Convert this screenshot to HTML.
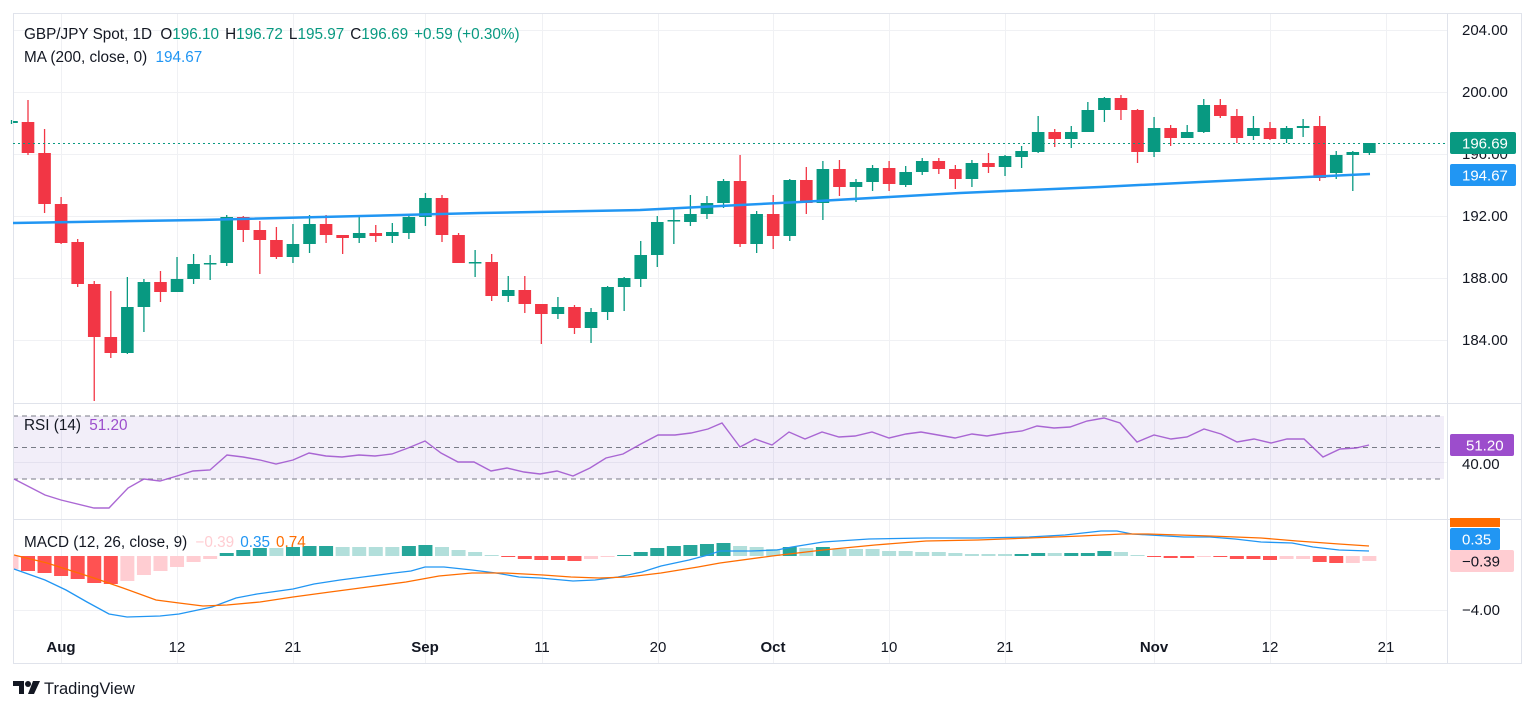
<!DOCTYPE html>
<html><head><meta charset="utf-8">
<style>
html,body{margin:0;padding:0;background:#fff;}
svg{display:block;font-family:"Liberation Sans",sans-serif;}
</style></head>
<body>
<svg id="c" width="1536" height="711" viewBox="0 0 1536 711" xmlns="http://www.w3.org/2000/svg">
<rect width="1536" height="711" fill="#fff"/>
<g id="grid" stroke="#f0f1f4" stroke-width="1"></g>
<rect x="13" y="416" width="1431" height="63" fill="#7e57c2" fill-opacity="0.1"/>
<g stroke="#787b86" stroke-dasharray="5,4" stroke-width="1">
<line x1="13" y1="416" x2="1444" y2="416"/><line x1="13" y1="447.5" x2="1444" y2="447.5"/><line x1="13" y1="479" x2="1444" y2="479"/>
</g>
<g stroke="#e0e3eb" stroke-width="1" fill="none">
<rect x="13.5" y="13.5" width="1508" height="650"/>
<line x1="13" y1="403.5" x2="1522" y2="403.5"/>
<line x1="13" y1="519.5" x2="1522" y2="519.5"/>
<line x1="1447.5" y1="13" x2="1447.5" y2="664"/>
</g>
<g id="cand"></g>
<g id="macd"></g>
<line x1="13" y1="143.5" x2="1447" y2="143.5" stroke="#089981" stroke-dasharray="2,3" stroke-width="1"/>
<polyline fill="none" stroke="#2196f3" stroke-width="2.5" points="13,223 200,220 480,213 640,210 800,202 960,193 1100,187 1200,182 1370,174"/>
<polyline fill="none" stroke="#9c4dcc" stroke-opacity="0.85" stroke-width="1.4" points="14,479 45,495 61,500 94,508 109,508 128,488 144,479 160,481 177,476 193,471 210,470 227,455 243,457 260,460 276,464 293,460 309,453 326,456 342,457 359,455 375,456 392,454 408,448 425,441 441,453 458,462 474,462 491,471 507,468 524,472 540,474 557,471 573,476 590,468 606,458 623,454 639,445 658,435 675,435 691,433 708,429 722,423 740,447 755,439 772,445 789,432 805,439 822,432 839,437 855,436 872,432 889,438 906,434 921,432 938,435 955,438 972,434 987,436 1005,433 1022,431 1037,426 1054,428 1070,427 1087,421 1104,418 1120,423 1137,442 1154,435 1171,439 1187,437 1204,429 1221,434 1237,442 1254,439 1271,443 1287,439 1304,439 1323,457 1340,449 1356,448 1369,445"/>
<polyline fill="none" stroke="#2196f3" stroke-width="1.3" points="14,569 45,580 66,590 87,602 109,614 127,617 160,616 179,614 212,607 236,598 257,594 293,589 314,584 340,580 363,577 394,573 411,571 425,567 444,567 472,570 496,573 519,577 540,578 573,581 595,580 618,577 642,572 661,566 689,560 708,555 720,551 751,551 777,550 792,547 823,542 869,539 926,538 978,538 1029,537 1065,535 1101,531 1117,531 1132,534 1184,537 1210,537 1235,539 1261,542 1292,543 1313,547 1339,550 1369,551"/>
<polyline fill="none" stroke="#ff6d00" stroke-width="1.3" points="14,555 47,563 94,578 123,588 156,600 179,603 203,606 227,605 260,602 293,597 330,592 368,587 406,582 439,576 472,573 505,573 543,575 571,577 599,578 628,577 661,573 698,567 720,563 772,556 823,550 875,545 926,541 978,540 1029,538 1081,536 1122,534 1148,534 1210,536 1261,538 1297,541 1339,544 1369,546"/>
<g font-size="15.3" fill="#131722">
<text x="24" y="39">GBP/JPY Spot, 1D  <tspan dx="4">O</tspan><tspan fill="#089981">196.10</tspan><tspan dx="6">H</tspan><tspan fill="#089981">196.72</tspan><tspan dx="6">L</tspan><tspan fill="#089981">195.97</tspan><tspan dx="6">C</tspan><tspan fill="#089981">196.69</tspan><tspan dx="6" fill="#089981">+0.59 (+0.30%)</tspan></text>
<text x="24" y="62">MA (200, close, 0) <tspan dx="4" fill="#2196f3">194.67</tspan></text>
<text x="24" y="430">RSI (14) <tspan dx="4" fill="#9c4dcc">51.20</tspan></text>
<text x="24" y="547">MACD (12, 26, close, 9) <tspan dx="4" fill="#ffcdd2">−0.39</tspan><tspan dx="6" fill="#2196f3">0.35</tspan><tspan dx="6" fill="#ff6d00">0.74</tspan></text>
</g>
<g font-size="15" fill="#131722">
<text x="1462" y="35">204.00</text><text x="1462" y="97">200.00</text><text x="1462" y="159">196.00</text>
<text x="1462" y="221">192.00</text><text x="1462" y="283">188.00</text><text x="1462" y="345">184.00</text>
<text x="1462" y="469">40.00</text><text x="1462" y="615">−4.00</text>
</g>
<rect x="1450" y="132" width="66" height="22" rx="2" fill="#089981"/><text x="1462" y="148.5" font-size="15" fill="#fff">196.69</text>
<rect x="1450" y="164" width="66" height="22" rx="2" fill="#2196f3"/><text x="1462" y="180.5" font-size="15" fill="#fff">194.67</text>
<rect x="1450" y="434" width="64" height="22" rx="2" fill="#9c4dcc"/><text x="1466" y="450.5" font-size="15" fill="#fff">51.20</text>
<rect x="1450" y="518" width="50" height="9" fill="#ff6d00"/>
<rect x="1450" y="528" width="50" height="22" rx="2" fill="#2196f3"/><text x="1462" y="544.5" font-size="15" fill="#fff">0.35</text>
<rect x="1450" y="550" width="64" height="22" rx="2" fill="#ffcdd2"/><text x="1462" y="566.5" font-size="15" fill="#131722">−0.39</text>
<g font-size="15" fill="#131722" text-anchor="middle">
<text x="61" y="652" font-weight="bold">Aug</text><text x="177" y="652">12</text><text x="293" y="652">21</text>
<text x="425" y="652" font-weight="bold">Sep</text><text x="542" y="652">11</text><text x="658" y="652">20</text>
<text x="773" y="652" font-weight="bold">Oct</text><text x="889" y="652">10</text><text x="1005" y="652">21</text>
<text x="1154" y="652" font-weight="bold">Nov</text><text x="1270" y="652">12</text><text x="1386" y="652">21</text>
</g>
<g fill="#131722">
<path d="M13 681h11v13h-5v-8h-6z"/><circle cx="28" cy="684" r="3"/><path d="M33 681h7l-6 13h-6z"/>
<text x="44" y="694" font-size="16.5">TradingView</text>
</g>
</svg>
<script>
(function(){
var NS="http://www.w3.org/2000/svg";
function el(p,t,a){var e=document.createElementNS(NS,t);for(var k in a)e.setAttribute(k,a[k]);p.appendChild(e);return e;}
var g=document.getElementById('grid');
[30,92,154,216,278,340,462,610].forEach(function(y){el(g,'line',{x1:13,y1:y+0.5,x2:1447,y2:y+0.5});});
[61,177,293,425,542,658,773,889,1005,1154,1270,1386].forEach(function(x){el(g,'line',{x1:x+0.5,y1:13,x2:x+0.5,y2:664});});
var d=[
[123,121,120,124],[122,153,100,155],[153,204,129,213],[204,243,197,244],[242,284,239,287],[284,337,281,401],[337,353,291,358],[353,307,277,354],[307,282,279,332],[282,292,271,302],
[292,279,257,292],[279,264,254,284],[264,263,255,280],[263,217,215,266],[217,230,216,242],[230,240,221,274],[240,257,227,259],[257,244,224,263],[244,224,215,253],[224,235,215,243],
[235,238,235,254],[238,233,217,243],[233,236,225,242],[236,232,223,243],[233,217,214,239],[217,198,193,226],[198,235,195,242],[235,263,233,263],[263,262,250,277],[262,296,254,301],
[296,290,276,302],[290,304,276,313],[304,314,304,344],[314,307,297,319],[307,328,305,334],[328,312,308,343],[312,287,286,320],[287,278,277,311],[279,255,241,287],[255,222,216,267],
[221,220,208,244],[222,214,195,226],[214,203,196,219],[203,181,179,208],[181,244,155,247],[244,214,211,253],[214,236,195,249],[236,180,179,241],[180,203,167,214],[203,169,161,220],
[169,187,160,196],[187,182,179,202],[182,168,165,191],[168,184,161,191],[185,172,166,187],[172,161,158,175],[161,169,158,174],[169,179,165,189],[179,163,160,187],[163,167,153,173],
[167,156,155,176],[157,151,146,168],[152,132,116,153],[132,139,129,147],[139,132,126,148],[132,110,102,132],[110,98,97,122],[98,110,95,120],[110,152,109,163],[152,128,117,157],
[128,138,125,146],[138,132,125,138],[132,105,99,133],[105,116,99,118],[116,138,109,143],[136,128,116,140],[128,139,122,140],[139,128,126,143],[128,126,119,137],[126,178,116,181],
[173,155,151,179],[155,152,151,191],[153,143,143,155]];
var cg=document.getElementById('cand');
var X=function(i){return 28+(i-2)*16.56;};
d.forEach(function(c,i){
  var x=X(i+1), up=c[1]<=c[0], col=up?'#089981':'#f23645';
  if(i==0){x=11.5;}
  var top=Math.min(c[0],c[1]), h=Math.max(1.5,Math.abs(c[0]-c[1]));
  el(cg,'line',{x1:x,y1:c[2],x2:x,y2:c[3],stroke:col,'stroke-width':1.3});
  var x0=x-6.3, w=12.6; if(x0<13){w-=13-x0;x0=13;}
  el(cg,'rect',{x:x0,y:top,width:w,height:h,fill:col});
});
var Z=556;
var hb=[[569,'p'],[571,'r'],[573,'r'],[576,'r'],[579,'r'],[583,'r'],[584,'r'],[581,'p'],[575,'p'],[571,'p'],[567,'p'],[562,'p'],[559,'p'],
[553,'g'],[550,'g'],[548,'g'],[548,'l'],[547,'g'],[546,'g'],[546,'g'],[547,'l'],[547,'l'],[547,'l'],[547,'l'],[546,'g'],[545,'g'],[547,'l'],[550,'l'],[552,'l'],[555,'l'],
[557,'r'],[559,'r'],[560,'r'],[560,'r'],[561,'r'],[559,'p'],[557,'p'],[555,'g'],[552,'g'],[548,'g'],[546,'g'],[545,'g'],[544,'g'],[543,'g'],
[546,'l'],[547,'l'],[549,'l'],[547,'g'],[548,'l'],[547,'g'],[549,'l'],[549,'l'],[549,'l'],[551,'l'],[551,'l'],[552,'l'],[552,'l'],[553,'l'],[554,'l'],[554,'l'],[554,'l'],[554,'g'],
[553,'g'],[553,'l'],[553,'g'],[553,'g'],[551,'g'],[552,'l'],[555,'l'],[557,'r'],[558,'r'],[558,'r'],[557,'p'],[557,'r'],[559,'r'],[559,'r'],[560,'r'],[559,'p'],[559,'p'],[562,'r'],[563,'r'],[563,'p'],[561,'p']];
var cols={r:'#ff5252',p:'#ffcdd2',g:'#26a69a',l:'#b2dfdb'};
var mg=document.getElementById('macd');
hb.forEach(function(b,i){
  var x=(i==0)?11.5:X(i+1); var y=b[0];
  var top=Math.min(y,Z), h=Math.max(1,Math.abs(y-Z));
  var x0=x-7, w=14; if(x0<13){w-=13-x0;x0=13;}
  el(mg,'rect',{x:x0,y:top,width:w,height:h,fill:cols[b[1]]});
});
})();
</script>
</body></html>
